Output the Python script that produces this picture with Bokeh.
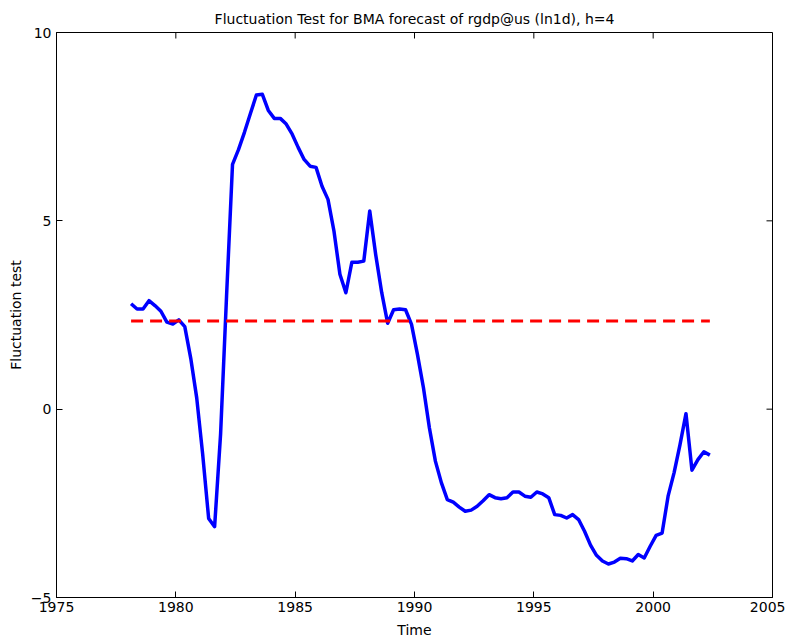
import math
from bokeh.plotting import figure
from bokeh.models import FixedTicker, Range1d
from bokeh.embed import file_html
from bokeh.resources import INLINE

# quarterly dates (1978Q1 .. 2002Q2, plotted at mid-quarter positions)
years = [1978.125 + 0.25 * i for i in range(98)]

fluct = [
    2.80, 2.66, 2.66, 2.88, 2.75, 2.60, 2.31, 2.26, 2.37, 2.19,
    1.35, 0.30, -1.20, -2.90, -3.12, -0.66, 3.00, 6.50, 6.89, 7.35,
    7.85, 8.34, 8.36, 7.93, 7.72, 7.72, 7.57, 7.30, 6.95, 6.63,
    6.45, 6.42, 5.92, 5.57, 4.73, 3.58, 3.09, 3.90, 3.90, 3.93,
    5.26, 4.10, 3.10, 2.28, 2.64, 2.66, 2.64, 2.25, 1.45, 0.57,
    -0.50, -1.38, -1.95, -2.40, -2.47, -2.60, -2.71, -2.68, -2.58, -2.43,
    -2.27, -2.35, -2.38, -2.35, -2.20, -2.20, -2.31, -2.34, -2.20, -2.25,
    -2.35, -2.80, -2.82, -2.89, -2.80, -2.93, -3.24, -3.61, -3.88, -4.03,
    -4.11, -4.06, -3.96, -3.97, -4.03, -3.86, -3.95, -3.64, -3.35, -3.29,
    -2.31, -1.69, -0.94, -0.12, -1.62, -1.34, -1.13, -1.22,
]

critical_value = 2.34

x_ticks = [1975, 1980, 1985, 1990, 1995, 2000, 2005]
y_ticks = [-5, 0, 5, 10]
x_min, x_max = 1975, 2005
y_min, y_max = -5, 10

FONT = "DejaVu Sans"

p = figure(
    width=785, height=641,
    output_backend="svg", toolbar_location=None,
    x_range=Range1d(x_min, x_max), y_range=Range1d(y_min, y_max),
    x_axis_label="Time", y_axis_label="Fluctuation test",
    min_border_left=56, min_border_right=13,
    min_border_top=32, min_border_bottom=44,
    title="Fluctuation Test for BMA forecast of rgdp@us (ln1d), h=4",
)

p.background_fill_color = "white"
p.border_fill_color = "white"
p.outline_line_color = "black"
p.outline_line_width = 1
p.grid.visible = False

p.title.align = "center"
p.title.vertical_align = "middle"
p.title.text_font = FONT
p.title.text_font_size = "14px"
p.title.text_font_style = "normal"
p.title.text_color = "black"
p.title.offset = 0

for ax in (p.xaxis[0], p.yaxis[0]):
    ax.major_tick_in = 6
    ax.major_tick_out = 0
    ax.minor_tick_line_color = None
    ax.axis_line_color = "black"
    ax.major_tick_line_color = "black"
    ax.major_label_text_font = FONT
    ax.major_label_text_font_size = "14px"
    ax.major_label_text_color = "black"
    ax.axis_label_text_font = FONT
    ax.axis_label_text_font_size = "14px"
    ax.axis_label_text_font_style = "normal"
    ax.axis_label_text_color = "black"

p.xaxis[0].ticker = FixedTicker(ticks=x_ticks)
p.yaxis[0].ticker = FixedTicker(ticks=y_ticks)
p.xaxis[0].major_label_standoff = 4
p.xaxis[0].axis_label_standoff = 7
p.yaxis[0].major_label_standoff = 5
p.yaxis[0].axis_label_standoff = 4

# mirrored inward tick marks on the top and right edges (MATLAB box style)
p.ray(x=x_ticks, y=[y_max] * len(x_ticks), length=6, length_units="screen",
      angle=-math.pi / 2, line_color="black", line_width=1)
p.ray(x=[x_max] * len(y_ticks), y=y_ticks, length=6, length_units="screen",
      angle=math.pi, line_color="black", line_width=1)

p.line(years, fluct, line_color="#0000ff", line_width=3.5, line_join="round")
p.line([years[0], years[-1]], [critical_value, critical_value],
       line_color="#ff0000", line_width=3, line_dash="12 7")

open("out.html", "w").write(file_html(p, INLINE))
